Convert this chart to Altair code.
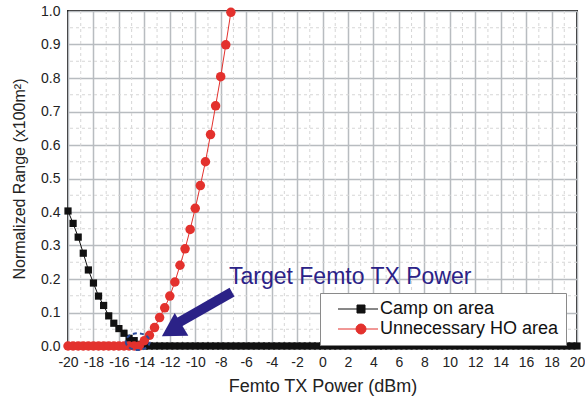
import altair as alt
import pandas as pd

# ---- data ----
x_vals = [-20.0, -19.6, -19.2, -18.8, -18.4, -18.0, -17.6, -17.2, -16.8, -16.4,
          -16.0, -15.6, -15.2, -14.8, -14.4, -14.0, -13.6, -13.2, -12.8, -12.4,
          -12.0, -11.6, -11.2, -10.8, -10.4, -10.0, -9.6, -9.2, -8.8, -8.4,
          -8.0, -7.6, -7.2, -6.8, -6.4, -6.0, -5.6, -5.2, -4.8, -4.4,
          -4.0, -3.6, -3.2, -2.8, -2.4, -2.0, -1.6, -1.2, -0.8, -0.4,
          0.0, 0.4, 0.8, 1.2, 1.6, 2.0, 2.4, 2.8, 3.2, 3.6,
          4.0, 4.4, 4.8, 5.2, 5.6, 6.0, 6.4, 6.8, 7.2, 7.6,
          8.0, 8.4, 8.8, 9.2, 9.6, 10.0, 10.4, 10.8, 11.2, 11.6,
          12.0, 12.4, 12.8, 13.2, 13.6, 14.0, 14.4, 14.8, 15.2, 15.6,
          16.0, 16.4, 16.8, 17.2, 17.6, 18.0, 18.4, 18.8, 19.2, 19.6, 20.0]

camp_on = [0.403, 0.366, 0.325, 0.277, 0.227, 0.188, 0.149, 0.121, 0.090, 0.068,
           0.052, 0.038, 0.023, 0.016, 0.005] + [0.0] * 86

unnecessary_ho = [0.0] * 15 + [0.016, 0.032, 0.055, 0.085, 0.114, 0.149, 0.191, 0.241,
                               0.290, 0.348, 0.411, 0.479, 0.550, 0.631, 0.717, 0.804,
                               0.899, 0.996]

series_names = ["Camp on area", "Unnecessary HO area"]
series_colors = ["#111111", "#e3312d"]

x_ticks = [-20, -18, -16, -14, -12, -10, -8, -6, -4, -2, 0, 2, 4, 6, 8, 10, 12, 14, 16, 18, 20]
y_ticks = [0.0, 0.1, 0.2, 0.3, 0.4, 0.5, 0.6, 0.7, 0.8, 0.9, 1.0]
x_minor = [-19, -17, -15, -13, -11, -9, -7, -5, -3, -1, 1, 3, 5, 7, 9, 11, 13, 15, 17, 19]
y_minor = [0.05, 0.15, 0.25, 0.35, 0.45, 0.55, 0.65, 0.75, 0.85, 0.95]

annotation_text = "Target Femto TX Power"
annotation_xy = (-7.35, 0.185)
arrow_from = (-7.11, 0.161)
arrow_to = (-11.4, 0.068)
arrow_head = (-11.85, 0.047)
ellipse_xy = (-14.52, 0.013)

FONT = "Liberation Sans"
NAVY = "#2b2287"

black_df = pd.DataFrame({"x": x_vals, "y": camp_on, "series": series_names[0]})
red_df = pd.DataFrame({"x": x_vals[:len(unnecessary_ho)], "y": unnecessary_ho, "series": series_names[1]})
df = pd.concat([black_df, red_df], ignore_index=True)

xs = alt.Scale(domain=[-20, 20], nice=False, zero=False)
ys = alt.Scale(domain=[0, 1], nice=False)
color = alt.Scale(domain=series_names, range=series_colors)

x_axis = alt.Axis(values=x_ticks, labelExpr="'' + datum.value", labelOverlap=False,
                  labelFlush=False, labelBound=False, title="Femto TX Power (dBm)")
y_axis = alt.Axis(values=y_ticks, format=".1f", labelOverlap=False, labelFlush=False,
                  labelBound=False, title="Normalized Range (x100m²)")


def X(field):
    return alt.X(field, scale=xs, axis=x_axis)


def Y(field):
    return alt.Y(field, scale=ys, axis=y_axis)


sq_path = "M0.5,0H10.5M5.25,-1H7.25V1H5.25Z"
ci_path = "M0.5,0H10.5M5,0A1.25,1.25 0 1,0 7.5,0A1.25,1.25 0 1,0 5,0Z"

legend = alt.Legend(
    orient="none", legendX=252, legendY=282, title=None,
    fillColor="white", strokeColor="#8a8a8a", padding=7,
    labelFont=FONT, labelFontSize=18, labelColor="#111", labelOffset=35, labelLimit=400,
    symbolSize=64, rowPadding=2, symbolStrokeWidth=1, symbolOpacity=1,
)

# legend-only layer: its points sit outside the plotted domain and are clipped away
leg_df = pd.DataFrame({"series": series_names, "x": [-40.0, -40.0], "y": [0.5, 0.5]})
legend_layer = alt.Chart(leg_df).mark_point(filled=True, strokeWidth=1, clip=True, opacity=1).encode(
    x=X("x:Q"),
    y=Y("y:Q"),
    fill=alt.Fill("series:N", scale=color, legend=legend),
    stroke=alt.Stroke("series:N", scale=color, legend=legend),
    shape=alt.Shape("series:N", scale=alt.Scale(domain=series_names, range=[sq_path, ci_path]),
                    legend=legend),
)

minor_x = alt.Chart(pd.DataFrame({"v": x_minor})).mark_rule(
    color="#d6d6d6", strokeWidth=1, strokeDash=[3, 3]
).encode(x=X("v:Q"))
minor_y = alt.Chart(pd.DataFrame({"v": y_minor})).mark_rule(
    color="#d6d6d6", strokeWidth=1, strokeDash=[3, 3]
).encode(y=Y("v:Q"))

lines = alt.Chart(df).mark_line(strokeWidth=1).encode(
    x=X("x:Q"),
    y=Y("y:Q"),
    color=alt.Color("series:N", scale=color, legend=None),
    detail="series:N",
)

black_pts = alt.Chart(black_df).mark_point(
    shape="square", filled=True, color=series_colors[0], opacity=1, size=52
).encode(x=X("x:Q"), y=Y("y:Q"))

red_pts = alt.Chart(red_df).mark_point(
    shape="circle", filled=True, color=series_colors[1], opacity=1, size=90
).encode(x=X("x:Q"), y=Y("y:Q"))

ann = pd.DataFrame({
    "tx": [annotation_xy[0]], "ty": [annotation_xy[1]], "label": [annotation_text],
    "ax": [arrow_from[0]], "ay": [arrow_from[1]], "ax2": [arrow_to[0]], "ay2": [arrow_to[1]],
    "hx": [arrow_head[0]], "hy": [arrow_head[1]],
    "ex": [ellipse_xy[0]], "ey": [ellipse_xy[1]],
})
ann_chart = alt.Chart(ann)

text = ann_chart.mark_text(align="left", baseline="alphabetic", font=FONT, fontSize=23,
                           color=NAVY).encode(x=X("tx:Q"), y=Y("ty:Q"), text="label:N")
shaft = ann_chart.mark_rule(color=NAVY, strokeWidth=10, strokeCap="butt").encode(
    x=X("ax:Q"), y=Y("ay:Q"), x2="ax2:Q", y2="ay2:Q")
head = ann_chart.mark_point(shape="triangle-up", filled=True, color=NAVY, opacity=1,
                            size=700, angle=239).encode(x=X("hx:Q"), y=Y("hy:Q"))
ellipse = ann_chart.mark_point(shape="M-1,0A1,0.7 0 1,0 1,0A1,0.7 0 1,0 -1,0Z", filled=False,
                               color="#2d4b9a", strokeWidth=2, strokeDash=[4, 3], opacity=1,
                               size=576).encode(x=X("ex:Q"), y=Y("ey:Q"))

chart = alt.layer(legend_layer, minor_x, minor_y, lines, black_pts, red_pts, ellipse, shaft,
                  head, text).properties(
    width=509, height=335,
    autosize=alt.AutoSizeParams(type="none"),
    padding={"left": 68, "top": 11, "right": 8, "bottom": 54},
).configure_view(
    stroke="#222222", strokeWidth=2
).configure_axis(
    labelFont=FONT, titleFont=FONT, labelFontSize=14, titleFontSize=18,
    labelColor="#222", titleColor="#222", titleFontWeight="normal",
    ticks=False, tickSize=0, domain=False, labelOverlap=False, labelFlush=False,
    grid=True, gridColor="#b8bcc0", gridWidth=1.5,
).configure_axisX(
    labelPadding=9, titlePadding=8,
).configure_axisY(
    labelPadding=8, titlePadding=13, titleFontSize=16,
)

chart.save("out.html", embed_options={"renderer": "svg", "actions": False})
